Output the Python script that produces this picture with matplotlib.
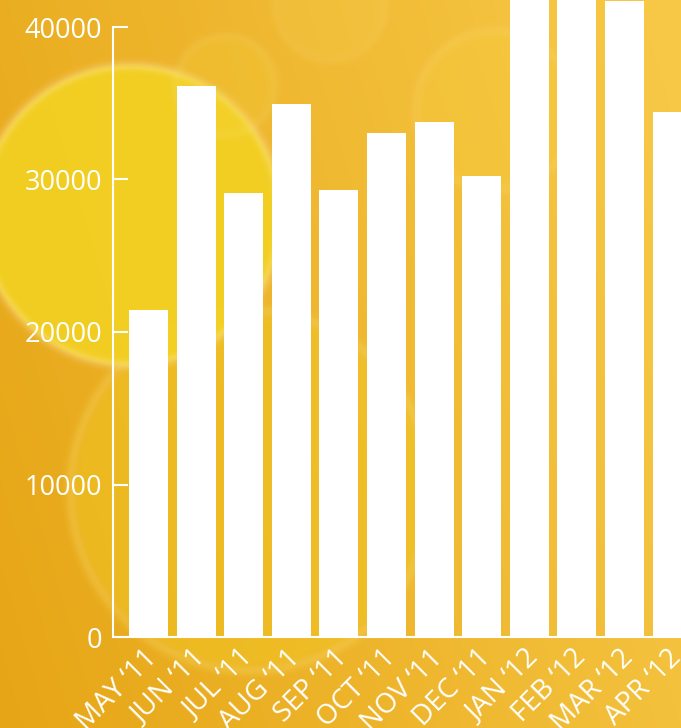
import numpy as np
import matplotlib
matplotlib.use("Agg")
import matplotlib.pyplot as plt
import matplotlib.transforms as mtransforms

months = ["MAY ‘11", "JUN ‘11", "JUL ‘11", "AUG ‘11", "SEP ‘11", "OCT ‘11",
          "NOV ‘11", "DEC ‘11", "JAN ‘12", "FEB ‘12", "MAR ‘12", "APR ‘12"]
values = [21440, 36130, 29110, 34950, 29310, 33050,
          33770, 30230, 44000, 43000, 41700, 34430]
yticks = [0, 10000, 20000, 30000, 40000]

W, H = 681, 728
fig = plt.figure(figsize=(W / 100, H / 100), dpi=100)

# ---- decorative background (gradient + bokeh circles) ----
yy, xx = np.mgrid[0:H, 0:W].astype(float)
left = np.array([230, 165, 22]) / 255
right = np.array([247, 200, 70]) / 255
t = np.clip(xx / W * 0.8 + (1 - yy / H) * 0.25, 0, 1)[..., None]
img = left * (1 - t) + right * t

def circle(img, cx, cy, r, col, alpha, rim=0.0, soft=6.0):
    d = np.sqrt((xx - cx) ** 2 + (yy - cy) ** 2)
    inside = np.clip((r - d) / soft + 0.5, 0, 1)[..., None]
    col = np.array(col) / 255
    img = img * (1 - alpha * inside) + col * alpha * inside
    if rim > 0:
        ring = np.exp(-((d - r) / 5.0) ** 2)[..., None]
        img = img * (1 - rim * ring) + np.array([1, 0.93, 0.7]) * rim * ring
    return img

img = circle(img, 250, 490, 180, (240, 196, 34), 0.55, rim=0.15, soft=20)
img = circle(img, 130, 215, 150, (243, 210, 34), 0.88, rim=0.3, soft=5)
img = circle(img, 225, 85, 50, (245, 215, 60), 0.2, rim=0.08, soft=8)
img = circle(img, 495, 110, 80, (245, 205, 60), 0.3, rim=0.1, soft=10)
img = circle(img, 330, 5, 55, (246, 205, 80), 0.25, rim=0.06, soft=12)
img = np.clip(img, 0, 1)

bg = fig.add_axes([0, 0, 1, 1])
bg.imshow(img, aspect="auto", extent=[0, 1, 0, 1], origin="upper")
bg.axis("off")

# ---- chart ----
x0, x1 = 113, 681
y0, ytop = 637, 27
ax = fig.add_axes([x0 / W, (H - y0) / H, (x1 - x0) / W, y0 / H])
ax.set_facecolor("none")
x = np.arange(len(months))
ax.bar(x, values, width=0.82, color="white", zorder=3)

step = 47.6
ax.set_xlim((x0 - 148.5) / step, (x1 - 148.5) / step)
ax.set_ylim(0, 40000 * y0 / (y0 - ytop))

for s in ["top", "right"]:
    ax.spines[s].set_visible(False)
for s in ["left", "bottom"]:
    ax.spines[s].set_color("white")
    ax.spines[s].set_linewidth(1.5)
ax.spines["left"].set_bounds(0, 40000)

ax.set_yticks(yticks)
ax.set_yticklabels([str(v) for v in yticks], fontsize=19.5, color="white",
                   family="Open Sans")
ax.tick_params(axis="y", direction="in", length=10.5, width=1.5,
               color="white", pad=8)
ax.set_xticks(x)
ax.set_xticklabels(months, rotation=45, ha="right", rotation_mode="anchor",
                   fontsize=20, color="white", family="Open Sans")
ax.tick_params(axis="x", length=0, pad=5)
offset = mtransforms.ScaledTranslation(-5 / 100, 0, fig.dpi_scale_trans)
for lab in ax.get_xticklabels():
    lab.set_transform(lab.get_transform() + offset)

fig.savefig("out.png", dpi=100)
